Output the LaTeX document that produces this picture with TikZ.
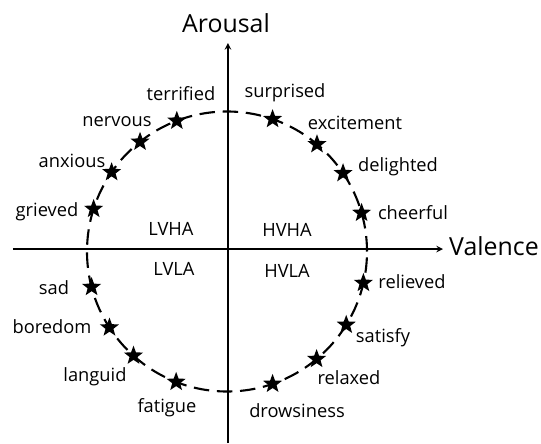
\documentclass[tikz,border=0pt]{standalone}
\usepackage{fontspec}
\setmainfont{Open Sans}
\usetikzlibrary{shapes.geometric}

\begin{document}
\begin{tikzpicture}[x=0.025cm, y=0.025cm,
	emo/.style={star, star points=5, star point ratio=2.4, fill=black, inner sep=0pt, minimum size=0.5cm},
	word/.style={font=\fontsize{13}{15}\selectfont, inner sep=0pt},
	axisname/.style={font=\fontsize{17.7}{20}\selectfont, inner sep=0pt}]

	\useasboundingbox (-228,-194) rectangle (313,249);

	\draw[line width=1.5pt, dash pattern=on 11pt off 5.5pt] (-1,-2.5) circle (140);

	\coordinate (vbot) at (0,-194);
	\coordinate (vtop) at (0,206);
	\coordinate (hleft) at (-215,0);
	\coordinate (hright) at (215,0);
	\draw[line width=1.1pt,-stealth] (vbot) -- (vtop);
	\draw[line width=1.1pt,-stealth] (hleft) -- (hright);
	\node[axisname] (arousal) at (-2,226) {Arousal};
	\node[axisname] (valence) at (266,3) {Valence};

	\node[word] (lvha) at (-57,20) {LVHA};
	\node[word] (hvha) at (59,19) {HVHA};
	\node[word] (lvla) at (-54,-20) {LVLA};
	\node[word] (hvla) at (59,-22) {HVLA};

	\foreach \ang/\nm/\lx/\ly in {111/terrified/-47/155, 71/surprised/57/156, 128.4/nervous/-111/127,
		50/excitement/127/126, 145.5/anxious/-156/88, 34/delighted/170/82, 162.3/grieved/-181/37,
		16/cheerful/185/36, 194.7/sad/-174/-39, 347/relieved/184/-33, 212.9/boredom/-176/-78,
		328.4/satisfy/155/-89, 228.1/languid/-133/-128, 309.8/relaxed/121/-129,
		248.7/fatigue/-61/-159, 289/drowsiness/69/-162}
	{
		\node[emo] (\nm) at ([shift={(-1,-2.5)}]\ang:140) {};
		\node[word] (\nm-txt) at (\lx,\ly) {\nm};
	}

\end{tikzpicture}
\end{document}
